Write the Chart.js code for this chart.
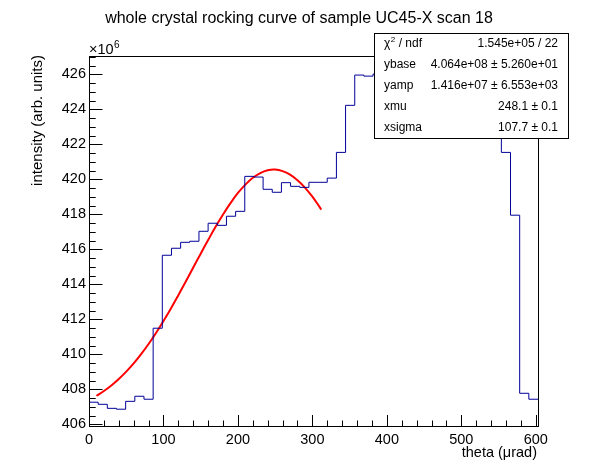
<!DOCTYPE html>
<html>
<head>
<meta charset="utf-8">
<script src="https://cdn.jsdelivr.net/npm/chart.js@4.4.1/dist/chart.umd.min.js"></script>
<style>
  html, body { margin: 0; padding: 0; background: #fff; }
  #c { display: block; }
</style>
</head>
<body>
<canvas id="c" width="598" height="474"></canvas>
<script>
// rocking curve - histogram (units of 10^6) + gaussian fit

const thetaMin = 0;
const thetaMax = 603;
const nBins = 49;

// bin contents (x10^6)
const binValues = [
  407.26, 407.14, 406.91, 406.86, 407.31, 407.60, 407.43, 411.49, 415.66, 416.06,
  416.40, 416.46, 417.03, 417.49, 417.37, 417.89, 418.17, 420.17, 420.13, 419.43,
  419.26, 419.81, 419.60, 419.54, 419.83, 419.83, 420.07, 421.54, 424.23, 425.96,
  425.90, 426.02, 425.98, 426.06, 425.95, 425.80, 425.70, 425.55, 425.40, 425.10,
  424.90, 424.60, 424.30, 423.90, 423.20, 421.54, 417.95, 407.77, 407.43
];

// fit curve points
const fitTheta = [10, 20, 30, 40, 50, 60, 70, 80, 90, 100, 110, 120, 130, 140, 150, 160,
  170, 180, 190, 200, 210, 220, 230, 240, 250, 260, 270, 280, 290, 300, 310, 312];
const fitValues = [407.63, 407.90, 408.22, 408.59, 409.01, 409.48, 410.01, 410.59, 411.22,
  411.90, 412.62, 413.38, 414.16, 414.96, 415.75, 416.53, 417.29, 417.99, 418.64, 419.22,
  419.70, 420.09, 420.36, 420.52, 420.56, 420.47, 420.27, 419.95, 419.53, 419.01, 418.40, 418.27];

const xTicks = [0, 100, 200, 300, 400, 500, 600];
const yTicks = [406, 408, 410, 412, 414, 416, 418, 420, 422, 424, 426];

const statsRows = [
  ['chi2', '1.545e+05 / 22'],
  ['ybase', '4.064e+08 \u00b1 5.260e+01'],
  ['yamp', '1.416e+07 \u00b1 6.553e+03'],
  ['xmu', '248.1 \u00b1 0.1'],
  ['xsigma', '107.7 \u00b1 0.1']
];

const FONT = "'Liberation Sans', Arial, Helvetica, sans-serif";

// histogram as step line, points at the left bin edges + closing point
const binW = (thetaMax - thetaMin) / nBins;
const histPoints = binValues.map((v, i) => ({ x: thetaMin + i * binW, y: v }));
histPoints.push({ x: thetaMax, y: binValues[binValues.length - 1] });

const fitPoints = fitTheta.map((t, i) => ({ x: t, y: fitValues[i] }));

// frame, inward ticks, titles and the stats box
const rootStyle = {
  id: 'rootStyle',
  afterDatasetsDraw(chart) {
    const ctx = chart.ctx;
    const a = chart.chartArea;
    const xs = chart.scales.x;
    const ys = chart.scales.y;
    ctx.save();
    ctx.strokeStyle = '#000';
    ctx.lineWidth = 1;
    ctx.strokeRect(Math.round(a.left) + 0.5, Math.round(a.top) + 0.5,
      Math.round(a.right - a.left), Math.round(a.bottom - a.top));

    ctx.beginPath();
    // x ticks: major 100, minor 20
    for (let v = thetaMin; v <= thetaMax; v += 20) {
      const px = Math.round(xs.getPixelForValue(v)) + 0.5;
      const len = (v % 100 === 0) ? 11 : 5.5;
      ctx.moveTo(px, a.bottom);
      ctx.lineTo(px, a.bottom - len);
    }
    // y ticks: major 2, minor 0.5
    for (let v = 406; v <= ys.max + 1e-6; v += 0.5) {
      const py = Math.round(ys.getPixelForValue(v)) + 0.5;
      const len = (Math.abs(v % 2) < 1e-6) ? 13.5 : 6.7;
      ctx.moveTo(a.left, py);
      ctx.lineTo(a.left + len, py);
    }
    ctx.stroke();
    ctx.restore();
  },
  afterDraw(chart) {
    const ctx = chart.ctx;
    ctx.save();
    ctx.fillStyle = '#000';

    // title
    ctx.font = '16px ' + FONT;
    ctx.textAlign = 'center';
    ctx.textBaseline = 'alphabetic';
    ctx.fillText('whole crystal rocking curve of sample UC45-X scan 18', 299, 23);

    // exponent
    ctx.textAlign = 'left';
    ctx.font = '14.5px ' + FONT;
    ctx.fillText('\u00d710', 89, 54);
    ctx.font = '10px ' + FONT;
    ctx.fillText('6', 114, 48);

    // x title
    ctx.font = '14.5px ' + FONT;
    ctx.textAlign = 'right';
    ctx.fillText('theta (\u03bcrad)', 537, 457);

    // y title
    ctx.save();
    ctx.font = '15px ' + FONT;
    ctx.translate(41.5, 55);
    ctx.rotate(-Math.PI / 2);
    ctx.textAlign = 'right';
    ctx.fillText('intensity (arb. units)', 0, 0);
    ctx.restore();

    // stats box
    const bx = 374.5, by = 33.5, bw = 194, bh = 105;
    ctx.fillStyle = '#fff';
    ctx.fillRect(bx, by, bw, bh);
    ctx.strokeStyle = '#000';
    ctx.lineWidth = 1;
    ctx.strokeRect(bx, by, bw, bh);
    ctx.fillStyle = '#000';
    ctx.textBaseline = 'middle';
    const rowH = bh / statsRows.length;
    statsRows.forEach((r, i) => {
      const cy = by + rowH * (i + 0.5);
      ctx.font = '12px ' + FONT;
      ctx.textAlign = 'left';
      if (r[0] === 'chi2') {
        ctx.fillText('\u03c7', 384, cy);
        const w = ctx.measureText('\u03c7').width;
        ctx.font = '8px ' + FONT;
        ctx.fillText('2', 384 + w + 0.5, cy - 4);
        ctx.font = '12px ' + FONT;
        ctx.fillText(' / ndf', 384 + w + 5, cy);
      } else {
        ctx.fillText(r[0], 384, cy);
      }
      ctx.textAlign = 'right';
      ctx.fillText(r[1], 558, cy);
    });
    ctx.restore();
  }
};

new Chart(document.getElementById('c'), {
  type: 'line',
  data: {
    datasets: [
      {
        label: 'data',
        data: histPoints,
        stepped: 'before',
        borderColor: '#000099',
        borderWidth: 1,
        pointRadius: 0,
        fill: false
      },
      {
        label: 'fit',
        data: fitPoints,
        borderColor: '#ff0000',
        borderWidth: 2,
        pointRadius: 0,
        tension: 0.4,
        fill: false
      }
    ]
  },
  options: {
    responsive: false,
    animation: false,
    devicePixelRatio: 1,
    layout: { padding: { left: 0, right: 60, top: 56, bottom: 0 } },
    plugins: {
      legend: { display: false },
      tooltip: { enabled: false }
    },
    scales: {
      x: {
        type: 'linear',
        min: thetaMin,
        max: thetaMax,
        grid: { display: false, drawTicks: false },
        border: { display: false },
        afterFit: s => { s.height = 48; },
        afterBuildTicks: s => { s.ticks = xTicks.map(v => ({ value: v })); },
        ticks: {
          padding: 5,
          maxRotation: 0,
          autoSkip: false,
          color: '#000',
          font: { family: FONT, size: 14.5 }
        }
      },
      y: {
        type: 'linear',
        min: 405.9,
        max: 427.05,
        grid: { display: false, drawTicks: false },
        border: { display: false },
        afterFit: s => { s.width = 89; },
        afterBuildTicks: s => { s.ticks = yTicks.map(v => ({ value: v })); },
        ticks: {
          padding: 3,
          autoSkip: false,
          color: '#000',
          font: { family: FONT, size: 14.5 }
        }
      }
    }
  },
  plugins: [rootStyle]
});
</script>
</body>
</html>
